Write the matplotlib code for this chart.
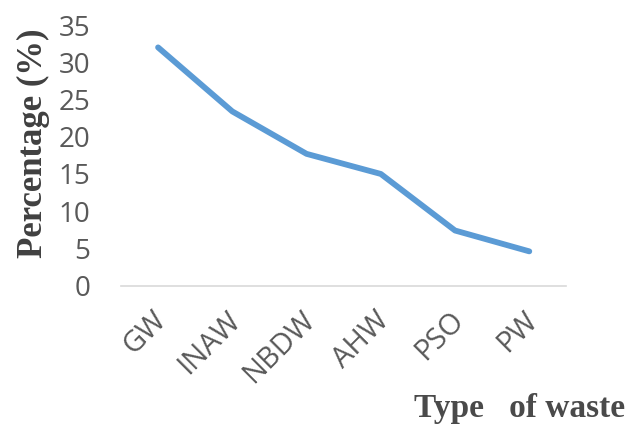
import matplotlib
matplotlib.use("Agg")
import matplotlib.pyplot as plt
from matplotlib.transforms import ScaledTranslation

# Share of each waste type in the total
categories = ["GW", "INAW", "NBDW", "AHW", "PSO", "PW"]
percentages = [32.0, 23.4, 17.7, 15.0, 7.4, 4.6]
y_ticks = [0, 5, 10, 15, 20, 25, 30, 35]

fig = plt.figure(figsize=(6.4, 4.25), dpi=100)
ax = fig.add_axes([0.189, 0.328, 0.696, 0.613])

x = list(range(len(categories)))
ax.plot(x, percentages, color="#5B9BD5", linewidth=4.2, solid_capstyle="round",
        solid_joinstyle="round")

ax.set_xlim(-0.5, len(categories) - 0.5)
ax.set_ylim(0, 35)
ax.set_yticks(y_ticks)
ax.set_yticklabels([str(v) for v in y_ticks], fontsize=20, color="#595959",
                   family="Open Sans")
ax.set_xticks(x)
ax.set_xticklabels(categories, rotation=45, ha="right", va="center",
                   rotation_mode="anchor", fontsize=21, color="#595959",
                   family="Open Sans")
ax.tick_params(axis="both", length=0)
ax.tick_params(axis="y", pad=22)
ax.tick_params(axis="x", pad=22)

# nudge the slanted category labels slightly to the right
shift = ScaledTranslation(3 / 72, 0, fig.dpi_scale_trans)
for lbl in ax.get_xticklabels():
    lbl.set_transform(lbl.get_transform() + shift)

for side in ("top", "right", "left"):
    ax.spines[side].set_visible(False)
ax.spines["bottom"].set_color("#D9D9D9")
ax.spines["bottom"].set_linewidth(1.2)

fig.text(0.053, 0.663, "Percentage (%)", rotation=90, ha="center", va="center",
         fontsize=25, fontweight="bold", color="#404040", family="Liberation Serif")
fig.text(0.8125, 0.019, "Type   of waste", ha="center", va="baseline",
         fontsize=24, fontweight="bold", color="#4a4a4a", family="Liberation Serif")

fig.savefig("out.png", dpi=100)
